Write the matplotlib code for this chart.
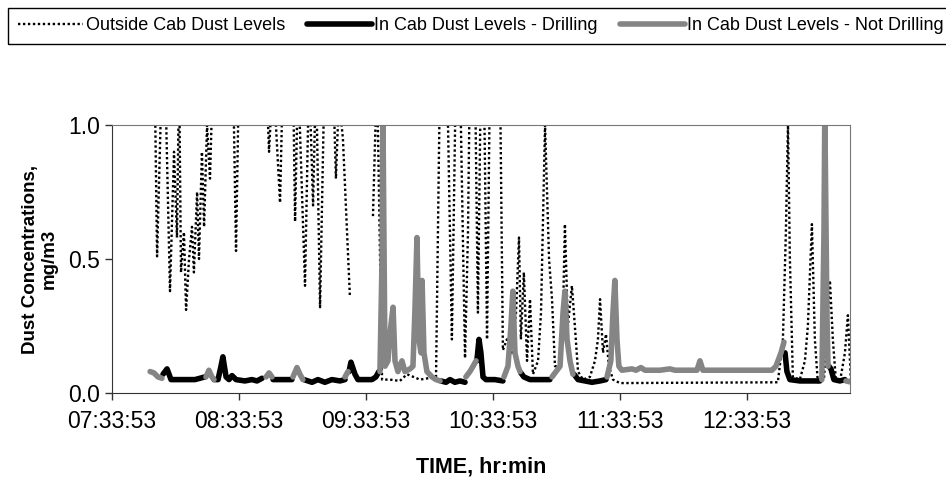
import numpy as np
import matplotlib.pyplot as plt
from matplotlib.patches import Rectangle

nan = np.nan

# time in minutes after 07:33:53, dust in mg/m3 (values above 1.0 are clipped by the axis)
outside_t = [18.0, 20.3, 21.3, 23.6, 25.5, 27.4, 29.3, 30.7, 31.7, 32.6, 34.0, 35.0, 36.4,
             37.8, 38.7, 40.2, 41.1, 42.5, 43.5, 44.9, 46.3, 47.7, 57.2, 58.6, 60.0, 72.8,
             74.2, 76.1, 79.4, 80.8, 85.5, 86.5, 87.9, 91.2, 93.1, 95.0, 96.4, 98.3, 100.2,
             104.4, 105.8, 107.2, 109.1, 112.4, 113.4, 123.3, 125.2, 127.6, 131.3, 136.0,
             139.4, 145.5, 153.1, 155.0, 156.9, 158.3, 160.6, 162.5, 164.4, 166.8, 168.2,
             169.1, 171.5, 172.9, 174.3, 175.7, 177.2, 178.6, 183.3, 184.7, 186.6, 189.0,
             190.9, 192.3, 193.2, 194.6, 196.1, 197.5, 198.9, 201.3, 202.7, 204.6, 206.5,
             207.9, 209.3, 211.7, 213.1, 214.0, 215.4, 217.3, 218.7, 220.2, 222.5, 225.8,
             228.2, 229.6, 230.6, 232.0, 233.4, 234.8, 236.7, 240.0, 314.6, 317.0, 318.4,
             319.4, 320.3, 321.7, 325.0, 327.4, 328.8, 330.7, 332.1, 333.5, 336.4, 338.3,
             339.2, 340.6, 342.0, 343.9, 346.3, 347.7, 349.1]
outside_v = [1.2, 1.1, 0.51, 1.2, 1.05, 0.38, 0.9, 0.58, 1.2, 0.45, 0.6, 0.31, 0.5,
             0.62, 0.45, 0.75, 0.5, 0.9, 0.62, 1.0, 0.8, 1.2, 1.2, 0.53, 1.2, 1.2,
             0.9, 1.2, 0.71, 1.2, 1.2, 0.64, 1.2, 0.40, 1.2, 0.7, 1.2, 0.32, 1.1,
             1.2, 0.8, 1.1, 0.95, 0.36, nan, 0.66, 1.2, 0.05, 0.05, 0.045,
             0.07, 0.05, 0.06, 1.2, 1.2, 1.2, 0.2, 1.2, 1.2, 0.13, 0.6,
             1.2, 1.2, 0.3, 1.2, 1.2, 0.2, 1.2, 1.2, 0.16, 0.2, 0.15,
             0.3, 0.58, 0.2, 0.45, 0.12, 0.35, 0.07, 0.12, 0.3, 1.0, 0.5,
             0.35, 0.1, 0.1, 0.3, 0.63, 0.25, 0.4, 0.25, 0.08, 0.05, 0.06,
             0.12, 0.2, 0.35, 0.15, 0.22, 0.1, 0.05, 0.037, 0.04, 0.2, 0.6,
             1.0, 0.5, 0.06, 0.05, 0.12, 0.25, 0.63, 0.2, 0.04, 0.05, 0.3,
             0.42, 0.2, 0.05, 0.04, 0.15, 0.29, 0.05]

drill_t = [24.1, 26.0, 27.9, 34.5, 39.2, 43.9, nan,
           48.2, 50.1, 51.5, 52.4, 53.9, 55.3, 56.7, 58.6, 62.8, 66.1, 68.5, 70.9, nan,
           76.1, 81.7, 85.0, nan,
           90.7, 94.5, 97.3, 100.6, 103.9, 107.7, 110.1, nan,
           112.0, 112.9, 114.8, 116.2, 119.5, 122.8, 124.7, 126.1, nan,
           155.4, 157.8, 159.7, 162.0, 164.4, 166.8, nan,
           172.4, 173.4, 174.3, 175.3, 176.7, 180.9, 184.7, nan,
           193.2, 194.6, 197.5, 202.2, 206.9, nan,
           218.3, 220.2, 223.5, 226.8, 230.6, 233.4, nan,
           318.0, 318.9, 320.3, 325.0, 329.8, 334.5, nan,
           338.7, 339.7, 341.1, 343.9, 346.3]
drill_v = [0.07, 0.09, 0.05, 0.05, 0.05, 0.06, nan,
           0.05, 0.05, 0.1, 0.135, 0.06, 0.05, 0.065, 0.05, 0.045, 0.05, 0.045, 0.055, nan,
           0.05, 0.05, 0.05, nan,
           0.05, 0.04, 0.05, 0.04, 0.05, 0.045, 0.05, nan,
           0.08, 0.115, 0.07, 0.05, 0.05, 0.05, 0.06, 0.08, nan,
           0.045, 0.04, 0.05, 0.04, 0.045, 0.04, nan,
           0.12, 0.2, 0.15, 0.06, 0.05, 0.05, 0.045, nan,
           0.075, 0.06, 0.05, 0.05, 0.05, nan,
           0.07, 0.05, 0.045, 0.04, 0.045, 0.05, nan,
           0.15, 0.08, 0.05, 0.045, 0.045, 0.045, nan,
           0.1, 0.09, 0.05, 0.045, 0.05]

idle_t = [18.0, 19.8, 21.7, 23.6, nan,
          44.4, 45.8, 47.2, 48.2, nan,
          72.8, 74.2, 75.6, nan,
          85.5, 87.4, 88.8, 90.2, nan,
          110.1, 111.5, nan,
          126.6, 127.6, 128.0, 129.0, 130.4, 131.3, 132.8, 133.7, 135.1, 137.0, 138.4,
          140.8, 142.2, 143.1, 144.1, 145.0, 146.0, 146.5, 147.4, 148.8, 151.2, 153.1,
          155.0, nan,
          167.2, 169.1, 170.6, 172.0, nan,
          185.2, 187.1, 188.5, 189.4, 190.4, 191.8, 192.8, nan,
          207.9, 209.8, 211.7, 213.1, 214.0, 215.0, 216.4, 217.8, nan,
          233.9, 235.7, 236.7, 237.6, 238.6, 239.5, 240.9, 245.7, 247.6, 249.9, 251.8,
          258.9, 263.6, 266.0, 273.1, 276.4, 277.8, 279.2, 292.0, 306.1, 311.8, 313.7,
          316.1, 317.5, nan,
          335.4, 336.4, 336.8, 337.8, 338.3, nan,
          346.8, 349.6]
idle_v = [0.08, 0.075, 0.06, 0.055, nan,
          0.06, 0.085, 0.06, 0.05, nan,
          0.06, 0.075, 0.06, nan,
          0.06, 0.095, 0.07, 0.05, nan,
          0.06, 0.08, nan,
          0.08, 0.5, 1.05, 0.1, 0.12, 0.22, 0.32, 0.12, 0.08, 0.12, 0.08,
          0.09, 0.1, 0.3, 0.58, 0.2, 0.15, 0.42, 0.15, 0.08, 0.06, 0.05,
          0.045, nan,
          0.06, 0.08, 0.1, 0.12, nan,
          0.06, 0.1, 0.25, 0.38, 0.15, 0.1, 0.08, nan,
          0.06, 0.08, 0.1, 0.3, 0.38, 0.2, 0.12, 0.07, nan,
          0.06, 0.12, 0.3, 0.42, 0.2, 0.1, 0.085, 0.09, 0.085, 0.095, 0.085,
          0.085, 0.09, 0.085, 0.085, 0.085, 0.12, 0.085, 0.085, 0.085, 0.085, 0.1,
          0.15, 0.19, nan,
          0.05, 0.6, 1.05, 0.3, 0.1, nan,
          0.045, 0.04]

tick_minutes = [0, 60, 120, 180, 240, 300]
tick_labels = ["07:33:53", "08:33:53", "09:33:53", "10:33:53", "11:33:53", "12:33:53"]

plt.rcParams['font.family'] = ['Liberation Sans', 'DejaVu Sans']

fig = plt.figure(figsize=(9.46, 4.78), dpi=100)
ax = fig.add_axes([112 / 946, 85 / 478, 738 / 946, 268 / 478])

ax.plot(outside_t, outside_v, color='black', lw=1.7, linestyle=(0, (1.0, 1.1)),
        label='Outside Cab Dust Levels')
ax.plot(drill_t, drill_v, color='black', lw=4, solid_capstyle='round',
        solid_joinstyle='round', label='In Cab Dust Levels - Drilling')
ax.plot(idle_t, idle_v, color='#858585', lw=4, solid_capstyle='round',
        solid_joinstyle='round', label='In Cab Dust Levels - Not Drilling')

ax.set_xlim(0, 348.7)
ax.set_ylim(0, 1.0)
ax.set_yticks([0, 0.5, 1.0])
ax.set_yticklabels(['0.0', '0.5', '1.0'])
ax.set_xticks(tick_minutes)
ax.set_xticklabels(tick_labels)
ax.tick_params(axis='both', labelsize=16.5, length=5, width=1, colors='#333333',
               labelcolor='black', direction='out')
ax.tick_params(axis='x', pad=7)
for side in ['left', 'bottom']:
    ax.spines[side].set_color('#333333')
for side in ['top', 'right']:
    ax.spines[side].set_color('#777777')

fig.text(40 / 946, 1 - 259 / 478, 'Dust Concentrations,\nmg/m3', rotation=90,
         ha='center', va='center', fontsize=13.5, fontweight='bold',
         multialignment='center', linespacing=1.1)
fig.text(481 / 946, 1 - 467 / 478, 'TIME, hr:min', ha='center', va='center',
         fontsize=15.5, fontweight='bold')

# legend box runs off the right edge like the original
fig.patches.append(Rectangle((8 / 946, 1 - 44 / 478), 960 / 946, 36 / 478,
                             transform=fig.transFigure, fill=False, lw=1,
                             edgecolor='black'))
fig.legend(loc='center left', bbox_to_anchor=(18 / 946, 1 - 26 / 478), ncol=3,
           frameon=False, fontsize=13, handlelength=3.6, handletextpad=0.15,
           columnspacing=1.2, borderpad=0, borderaxespad=0)

fig.savefig('out.png', dpi=100)
